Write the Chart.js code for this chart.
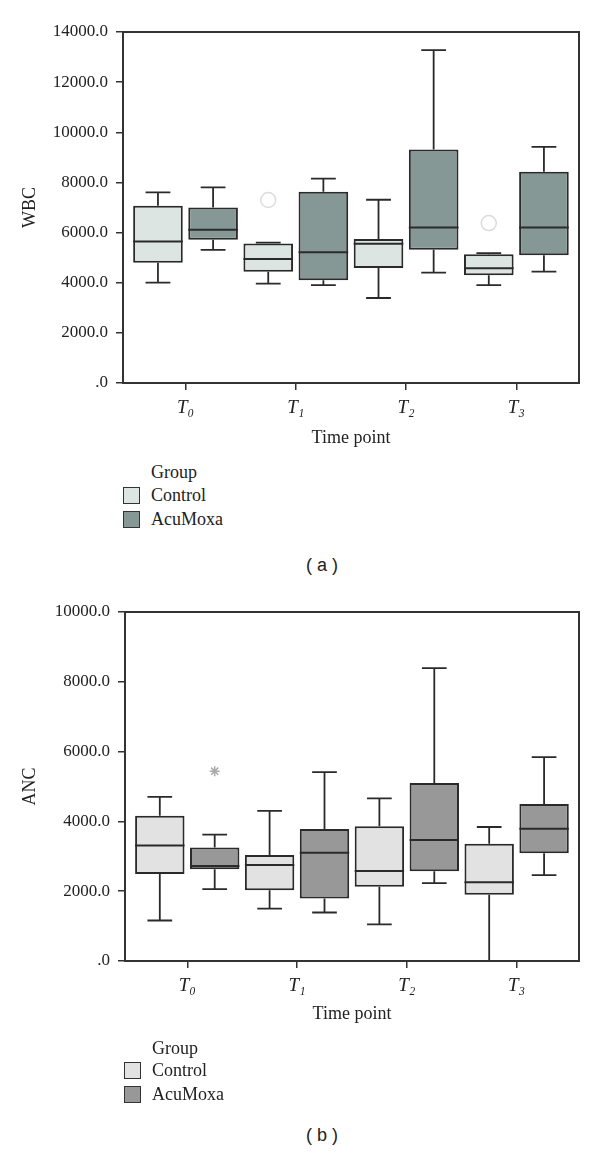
<!DOCTYPE html>
<html>
<head>
<meta charset="utf-8">
<script src="https://cdn.jsdelivr.net/npm/chart.js@4.4.1/dist/chart.umd.min.js"></script>
<style>
  body { margin: 0; background: #fff; width: 600px; height: 1154px; position: relative; overflow: hidden; }
  .panel { position: absolute; left: 0; width: 600px; height: 460px; }
  .txt { position: absolute; font-family: 'Liberation Serif', serif; font-size: 18px; color: #222; line-height: 22px; height: 22px; white-space: nowrap; }
  .sw { position: absolute; width: 15px; height: 15px; border: 1.5px solid #333; }
  .cap { position: absolute; left: 0; width: 644px; text-align: center; font-family: 'Liberation Sans', sans-serif; font-size: 18px; color: #222; line-height: 22px; }
</style>
</head>
<body>
<div class="panel" style="top:0"><canvas id="wbc" width="600" height="460"></canvas></div>
<div class="panel" style="top:580px"><canvas id="anc" width="600" height="460"></canvas></div>

<div class="txt" style="left:151px; top:461px">Group</div>
<div class="sw" style="left:123px; top:487px; background:#dde5e2"></div>
<div class="txt" style="left:151px; top:484px">Control</div>
<div class="sw" style="left:123px; top:511px; background:#869896"></div>
<div class="txt" style="left:151px; top:508px">AcuMoxa</div>
<div class="cap" style="top:554px">( a )</div>

<div class="txt" style="left:152px; top:1037px">Group</div>
<div class="sw" style="left:124px; top:1062px; background:#e2e2e2"></div>
<div class="txt" style="left:152px; top:1059px">Control</div>
<div class="sw" style="left:124px; top:1086px; background:#989898"></div>
<div class="txt" style="left:152px; top:1083px">AcuMoxa</div>
<div class="cap" style="top:1124px">( b )</div>

<script>
const timePoints = ['T₀', 'T₁', 'T₂', 'T₃'];
const groups = ['Control', 'AcuMoxa'];

// WBC (a)
const wbcTicks   = ['.0', '2000.0', '4000.0', '6000.0', '8000.0', '10000.0', '12000.0', '14000.0'];
const wbcCtrlMin = [4000, 3960, 3390, 3900];
const wbcCtrlQ1  = [4800, 4440, 4590, 4300];
const wbcCtrlMed = [5640, 4950, 5550, 4580];
const wbcCtrlQ3  = [7070, 5560, 5740, 5140];
const wbcCtrlMax = [7600, 5600, 7310, 5180];
const wbcMoxaMin = [5310, 3900, 4400, 4440];
const wbcMoxaQ1  = [5710, 4100, 5310, 5100];
const wbcMoxaMed = [6110, 5220, 6200, 6200];
const wbcMoxaQ3  = [7000, 7630, 9310, 8430];
const wbcMoxaMax = [7800, 8150, 13280, 9420];
const wbcOutlierT = [1, 3];          // control outliers (time point index)
const wbcOutlierV = [7300, 6380];

// ANC (b)
const ancTicks   = ['.0', '2000.0', '4000.0', '6000.0', '8000.0', '10000.0'];
const ancCtrlMin = [1160, 1500, 1050, 0];
const ancCtrlQ1  = [2490, 2030, 2130, 1900];
const ancCtrlMed = [3310, 2750, 2580, 2260];
const ancCtrlQ3  = [4160, 3040, 3860, 3360];
const ancCtrlMax = [4700, 4300, 4660, 3840];
const ancMoxaMin = [2060, 1390, 2230, 2460];
const ancMoxaQ1  = [2630, 1790, 2570, 3090];
const ancMoxaMed = [2720, 3100, 3470, 3790];
const ancMoxaQ3  = [3250, 3780, 5100, 4500];
const ancMoxaMax = [3620, 5410, 8390, 5840];
const ancExtremeT = [0];             // acumoxa extreme (star)
const ancExtremeV = [5440];

const SERIF = 'Liberation Serif';
const INK = '#2a2a2a';

// whiskers, caps and medians drawn on top of the floating bars
function boxPlugin(stats) {
  return {
    id: 'boxWhiskers',
    afterDatasetsDraw(chart) {
      const c = chart.ctx, y = chart.scales.y;
      c.save();
      c.strokeStyle = INK;
      c.lineWidth = 1.8;
      stats.forEach((s, di) => {
        const meta = chart.getDatasetMeta(di);
        meta.data.forEach((bar, i) => {
          const w = bar.width, x = bar.x;
          const yMin = y.getPixelForValue(s.min[i]);
          const yMax = y.getPixelForValue(s.max[i]);
          const yQ1  = y.getPixelForValue(s.q1[i]);
          const yQ3  = y.getPixelForValue(s.q3[i]);
          const yMed = y.getPixelForValue(s.med[i]);
          c.beginPath();
          c.moveTo(x, yQ3); c.lineTo(x, yMax);
          c.moveTo(x, yQ1); c.lineTo(x, yMin);
          c.moveTo(x - w / 4, yMax); c.lineTo(x + w / 4, yMax);
          c.moveTo(x - w / 4, yMin); c.lineTo(x + w / 4, yMin);
          c.stroke();
          c.save();
          c.lineWidth = 2;
          c.beginPath();
          c.moveTo(x - w / 2, yMed); c.lineTo(x + w / 2, yMed);
          c.stroke();
          c.restore();
        });
      });
      c.restore();
    }
  };
}

const frame = {
  id: 'frame',
  afterDraw(chart) {
    const { ctx: c, chartArea: a } = chart;
    c.save();
    c.strokeStyle = '#333';
    c.lineWidth = 2;
    c.strokeRect(a.left, a.top, a.right - a.left, a.bottom - a.top);
    c.restore();
  }
};

function makeChart(id, cfg) {
  const boxes = (q1, q3, fill, label) => ({
    type: 'bar',
    label,
    data: q1.map((v, i) => ({ x: i, y: [v, q3[i]] })),
    backgroundColor: fill,
    borderColor: INK,
    borderWidth: 2,
    borderSkipped: false,
    categoryPercentage: 1,
    barPercentage: 0.9,
    order: 2
  });

  new Chart(document.getElementById(id), {
    data: {
      datasets: [
        boxes(cfg.ctrl.q1, cfg.ctrl.q3, cfg.colors[0], groups[0]),
        boxes(cfg.moxa.q1, cfg.moxa.q3, cfg.colors[1], groups[1]),
        {
          type: 'scatter',
          label: 'outliers',
          data: cfg.outT.map((t, i) => ({ x: t + cfg.outShift, y: cfg.outV[i] })),
          pointStyle: cfg.outStyle,
          pointRadius: cfg.outRadius,
          borderColor: cfg.outColor,
          borderWidth: 1.5,
          backgroundColor: 'rgba(0,0,0,0)',
          order: 1
        }
      ]
    },
    options: {
      responsive: false,
      animation: false,
      events: [],
      layout: { padding: { left: 0, right: cfg.right, top: cfg.top, bottom: 0 } },
      plugins: { legend: { display: false }, tooltip: { enabled: false } },
      scales: {
        x: {
          type: 'linear',
          offset: false,
          min: -0.567,
          max: 3.568,
          afterBuildTicks: s => { s.ticks = timePoints.map((_, i) => ({ value: i })); },
          afterFit: s => { s.height = cfg.xHeight; },
          border: { display: false },
          grid: { offset: false, drawOnChartArea: false, drawTicks: true, tickLength: 7, color: '#333', lineWidth: 1.5 },
          ticks: {
            padding: 7,
            color: '#222',
            font: { family: SERIF, size: 19, style: 'italic' },
            callback: v => timePoints[v]
          },
          title: {
            display: true,
            text: 'Time point',
            color: '#222',
            font: { family: SERIF, size: 18 },
            padding: { top: 0, bottom: cfg.xTitlePad }
          }
        },
        y: {
          min: 0,
          max: cfg.yMax,
          afterBuildTicks: s => { s.ticks = cfg.yTicks.map((_, i) => ({ value: i * 2000 })); },
          afterFit: s => { s.width = cfg.left; },
          border: { display: false },
          grid: { drawOnChartArea: false, drawTicks: true, tickLength: 7, color: '#333', lineWidth: 1.5 },
          ticks: {
            padding: 8,
            color: '#222',
            font: { family: SERIF, size: 17 },
            callback: (v, i) => cfg.yTicks[i]
          },
          title: {
            display: true,
            text: cfg.yTitle,
            color: '#222',
            font: { family: SERIF, size: 18 },
            padding: { top: 19, bottom: 0 }
          }
        }
      }
    },
    plugins: [boxPlugin([cfg.ctrl, cfg.moxa]), frame]
  });
}

makeChart('wbc', {
  yTitle: 'WBC', yMax: 14000, yTicks: wbcTicks,
  left: 123, right: 21, top: 32, xHeight: 77, xTitlePad: 11,
  colors: ['#dde5e2', '#869896'],
  ctrl: { min: wbcCtrlMin, q1: wbcCtrlQ1, med: wbcCtrlMed, q3: wbcCtrlQ3, max: wbcCtrlMax },
  moxa: { min: wbcMoxaMin, q1: wbcMoxaQ1, med: wbcMoxaMed, q3: wbcMoxaQ3, max: wbcMoxaMax },
  outT: wbcOutlierT, outV: wbcOutlierV, outShift: -0.25,
  outStyle: 'circle', outRadius: 7.5, outColor: '#dcdcdc'
});

makeChart('anc', {
  yTitle: 'ANC', yMax: 10000, yTicks: ancTicks,
  left: 125, right: 21, top: 32, xHeight: 79, xTitlePad: 15,
  colors: ['#e2e2e2', '#989898'],
  ctrl: { min: ancCtrlMin, q1: ancCtrlQ1, med: ancCtrlMed, q3: ancCtrlQ3, max: ancCtrlMax },
  moxa: { min: ancMoxaMin, q1: ancMoxaQ1, med: ancMoxaMed, q3: ancMoxaQ3, max: ancMoxaMax },
  outT: ancExtremeT, outV: ancExtremeV, outShift: 0.25,
  outStyle: 'star', outRadius: 5, outColor: '#aaaaaa'
});
</script>
</body>
</html>
